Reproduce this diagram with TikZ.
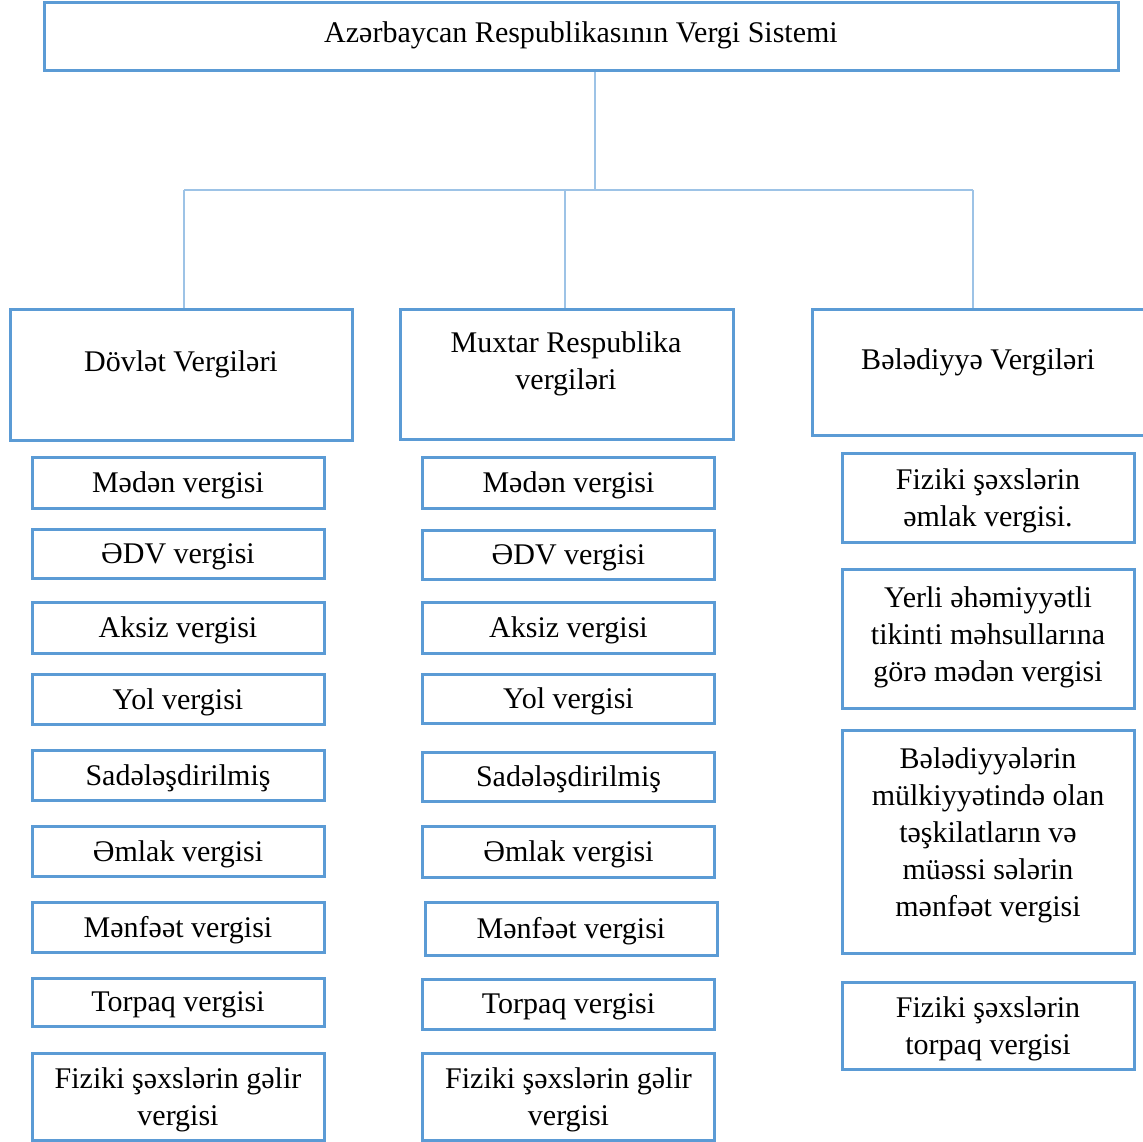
\documentclass[tikz,border=0pt]{standalone}
\usepackage{fontspec}
\setmainfont{Liberation Serif}
\definecolor{boxblue}{HTML}{5B9BD5}
\definecolor{lineblue}{HTML}{9DC3E6}
\begin{document}
\begin{tikzpicture}[x=1pt,y=-1pt,
  box/.style={draw=boxblue, line width=3pt, rectangle, inner sep=0pt},
  item/.style={box, minimum width=292pt},
  conn/.style={draw=lineblue, line width=2pt},
  lbl/.style={inner sep=0pt, align=center, font=\fontsize{30}{37}\selectfont, text=black},
  txt/.style={label={[lbl, yshift=-3pt]center:{#1}}}]
\useasboundingbox (0,0) rectangle (1143,1142);

% top
\node[box, minimum width=1074pt, minimum height=68pt] (top) at (581,37) {};
\node[lbl] (topt) at (581,35) {Azərbaycan Respublikasının Vergi Sistemi};

% level 2
\node[box, minimum width=342pt, minimum height=131pt] (dov) at (181,374.5) {};
\node[lbl] (dovt) at (181,364) {Dövlət Vergiləri};
\node[box, minimum width=333pt, minimum height=130pt] (mux) at (566.5,374) {};
\node[lbl] (muxt) at (566,364) {Muxtar Respublika\\vergiləri};
\node[box, minimum width=332pt, minimum height=126pt] (bel) at (978,372) {};
\node[lbl] (belt) at (978,362) {Bələdiyyə Vergiləri};

% connectors
\coordinate (j) at (595,190);
\coordinate (bl) at (184,190);
\coordinate (bm) at (565,190);
\coordinate (br) at (973,190);
\draw[conn] (top.south -| j) -- (j);
\draw[conn] (bl) -- (br);
\draw[conn] (bl) -- (bl |- dov.north);
\draw[conn] (bm) -- (bm |- mux.north);
\draw[conn] (br) -- (br |- bel.north);

% left column
\node[item, minimum height=51pt, txt={Mədən vergisi}] (l1) at (178,482.5) {};
\node[item, minimum height=49pt, txt={ƏDV vergisi}] (l2) at (178,553.5) {};
\node[item, minimum height=51pt, txt={Aksiz vergisi}] (l3) at (178,627.5) {};
\node[item, minimum height=50pt, txt={Yol vergisi}] (l4) at (178,699) {};
\node[item, minimum height=50pt, txt={Sadələşdirilmiş}] (l5) at (178,775) {};
\node[item, minimum height=50pt, txt={Əmlak vergisi}] (l6) at (178,851) {};
\node[item, minimum height=50pt, txt={Mənfəət vergisi}] (l7) at (178,927) {};
\node[item, minimum height=48pt, txt={Torpaq vergisi}] (l8) at (178,1002) {};
\node[item, minimum height=87pt, txt={Fiziki şəxslərin gəlir\\vergisi}] (l9) at (178,1096.5) {};

% middle column
\node[item, minimum height=51pt, txt={Mədən vergisi}] (m1) at (568.5,482.5) {};
\node[item, minimum height=49pt, txt={ƏDV vergisi}] (m2) at (568.5,554.5) {};
\node[item, minimum height=51pt, txt={Aksiz vergisi}] (m3) at (568.5,627.5) {};
\node[item, minimum height=49pt, txt={Yol vergisi}] (m4) at (568.5,698.5) {};
\node[item, minimum height=49pt, txt={Sadələşdirilmiş}] (m5) at (568.5,776.5) {};
\node[item, minimum height=51pt, txt={Əmlak vergisi}] (m6) at (568.5,851.5) {};
\node[item, minimum height=53pt, txt={Mənfəət vergisi}] (m7) at (571,928.5) {};
\node[item, minimum height=50pt, txt={Torpaq vergisi}] (m8) at (568.5,1004) {};
\node[item, minimum height=87pt, txt={Fiziki şəxslərin gəlir\\vergisi}] (m9) at (568.5,1096.5) {};

% right column
\node[item, minimum height=89pt, txt={Fiziki şəxslərin\\əmlak vergisi.}] (r1) at (988,497.5) {};
\node[item, minimum height=139pt] (r2) at (988,638.5) {};
\node[lbl] (r2t) at (988,637) {Yerli əhəmiyyətli\\tikinti məhsullarına\\görə mədən vergisi};
\node[item, minimum height=223pt] (r3) at (988,841.5) {};
\node[lbl] (r3t) at (988,835) {Bələdiyyələrin\\mülkiyyətində olan\\təşkilatların və\\müəssi sələrin\\mənfəət vergisi};
\node[item, minimum height=87pt, txt={Fiziki şəxslərin\\torpaq vergisi}] (r4) at (988,1025.5) {};
\end{tikzpicture}
\end{document}
